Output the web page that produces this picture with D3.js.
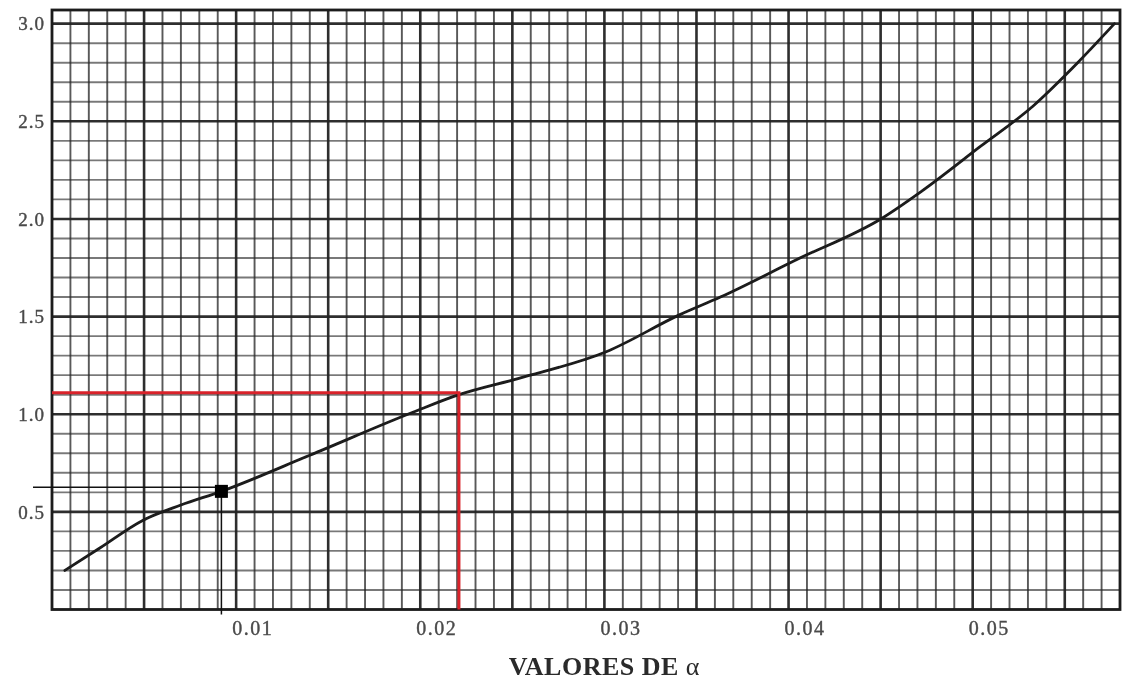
<!DOCTYPE html>
<html>
<head>
<meta charset="utf-8">
<script src="https://cdn.jsdelivr.net/npm/d3@7"></script>
<style>
  html, body { margin: 0; padding: 0; background: #fff; }
  svg { display: block; }
</style>
</head>
<body>
<svg id="chart" width="1127" height="680"></svg>
<script>
// Curve: value read on the vertical axis against alpha
const alphaValues = [0.0007, 0.0026, 0.0049, 0.0070, 0.0092, 0.0140, 0.0196, 0.0221, 0.0254, 0.0301, 0.0341, 0.0363, 0.0404, 0.0451, 0.0472, 0.0504, 0.0533, 0.0557, 0.0577];
const curveValues = [0.20, 0.315, 0.455, 0.535, 0.605, 0.79, 1.01, 1.10, 1.185, 1.32, 1.51, 1.60, 1.79, 2.005, 2.14, 2.37, 2.58, 2.80, 3.00];

// Tick labels
const xTicks = [0.01, 0.02, 0.03, 0.04, 0.05];
const yTicks = [0.5, 1.0, 1.5, 2.0, 2.5, 3.0];

// Reading guides: marked point and the red lookup
const markedPoint = [0.0092, 0.605];
const redLookup = [0.0221, 1.11];

const xLabel = "VALORES DE ";
const xLabelSymbol = "α";

const svg = d3.select("#chart");

const x = d3.scaleLinear().domain([0, 0.058]).range([52, 1120]);
const y = d3.scaleLinear().domain([0, 3.07]).range([609.5, 10]);

const defs = svg.append("defs");
defs.append("filter").attr("id", "soft")
  .attr("x", "-5%").attr("y", "-5%").attr("width", "110%").attr("height", "110%")
  .append("feGaussianBlur").attr("stdDeviation", 0.75);

const paper = svg.append("g").attr("filter", "url(#soft)");

// Grid lines at 0.001 in alpha and 0.1 in value; heavier every 0.005 and 0.5
const xMinor = d3.range(1, 58).map(i => i / 1000);
const yMinor = d3.range(1, 31).map(i => i / 10);

paper.append("g").selectAll("line").data(yMinor).join("line")
  .attr("x1", x(0)).attr("x2", x(0.058))
  .attr("y1", d => y(d)).attr("y2", d => y(d))
  .attr("stroke", "#222")
  .attr("stroke-opacity", (d, i) => ((i + 1) % 5 === 0) ? 0.95 : 0.6)
  .attr("stroke-width", (d, i) => ((i + 1) % 5 === 0) ? 2.6 : 1.9);

paper.append("g").selectAll("line").data(xMinor).join("line")
  .attr("x1", d => x(d)).attr("x2", d => x(d))
  .attr("y1", y(0)).attr("y2", y(3.07))
  .attr("stroke", "#222")
  .attr("stroke-opacity", (d, i) => ((i + 1) % 5 === 0) ? 0.95 : 0.75)
  .attr("stroke-width", (d, i) => ((i + 1) % 5 === 0) ? 2.6 : 1.9);

// Frame
paper.append("rect")
  .attr("x", x(0)).attr("y", y(3.07))
  .attr("width", x(0.058) - x(0)).attr("height", y(0) - y(3.07))
  .attr("fill", "none").attr("stroke", "#1a1a1a").attr("stroke-width", 2.8);

// Curve
const pts = alphaValues.map((a, i) => [a, curveValues[i]]);
const line = d3.line().x(d => x(d[0])).y(d => y(d[1])).curve(d3.curveMonotoneX);
paper.append("path").datum(pts)
  .attr("d", line)
  .attr("fill", "none").attr("stroke", "#1a1a1a").attr("stroke-width", 2.8)
  .attr("stroke-linecap", "round");

// Axis tick labels
const labelFont = "'Liberation Serif', 'DejaVu Serif', serif";
const xAxis = d3.axisBottom(x).tickValues(xTicks).tickSize(0).tickPadding(0)
  .tickFormat(d3.format(".2f"));
const gx = paper.append("g").attr("transform", `translate(0, ${y(0) + 25})`).call(xAxis);
gx.select(".domain").remove();
gx.selectAll("text")
  .attr("dy", 0).attr("dx", 16)
  .style("font-family", labelFont).style("font-size", "20px")
  .style("letter-spacing", "1.5px").attr("fill", "#4a4a4a")
  .attr("stroke", "#4a4a4a").attr("stroke-width", 0.4);

const yAxis = d3.axisLeft(y).tickValues(yTicks).tickSize(0).tickPadding(0)
  .tickFormat(d3.format(".1f"));
const gy = paper.append("g").attr("transform", `translate(${x(0) - 7}, 0)`).call(yAxis);
gy.select(".domain").remove();
gy.selectAll("text")
  .attr("dy", "0.33em")
  .style("font-family", labelFont).style("font-size", "19px")
  .style("letter-spacing", "1px").attr("fill", "#4a4a4a")
  .attr("stroke", "#4a4a4a").attr("stroke-width", 0.4);

// Axis title
const title = paper.append("text")
  .attr("x", x(0.03)).attr("y", 675)
  .attr("text-anchor", "middle")
  .style("font-family", labelFont).style("font-size", "26px")
  .style("letter-spacing", "0.5px")
  .style("font-weight", "bold").attr("fill", "#2a2a2a");
title.append("tspan").text(xLabel);
title.append("tspan").text(xLabelSymbol).style("font-weight", "normal");

// Black guides to the marked point
svg.append("line")
  .attr("x1", 33).attr("x2", x(markedPoint[0]))
  .attr("y1", y(markedPoint[1]) - 4).attr("y2", y(markedPoint[1]) - 4)
  .attr("stroke", "#111").attr("stroke-width", 1.5);
svg.append("line")
  .attr("x1", x(markedPoint[0])).attr("x2", x(markedPoint[0]))
  .attr("y1", y(markedPoint[1])).attr("y2", y(0) + 5)
  .attr("stroke", "#111").attr("stroke-width", 1.5);
svg.append("rect")
  .attr("x", x(markedPoint[0]) - 6.5).attr("y", y(markedPoint[1]) - 6.5)
  .attr("width", 13).attr("height", 13).attr("fill", "#000");

// Red lookup lines
svg.append("polyline")
  .attr("points", [[x(0), y(redLookup[1])], [x(redLookup[0]), y(redLookup[1])], [x(redLookup[0]), y(0)]].map(p => p.join(",")).join(" "))
  .attr("fill", "none").attr("stroke", "#d9222a").attr("stroke-width", 3);
</script>
</body>
</html>
